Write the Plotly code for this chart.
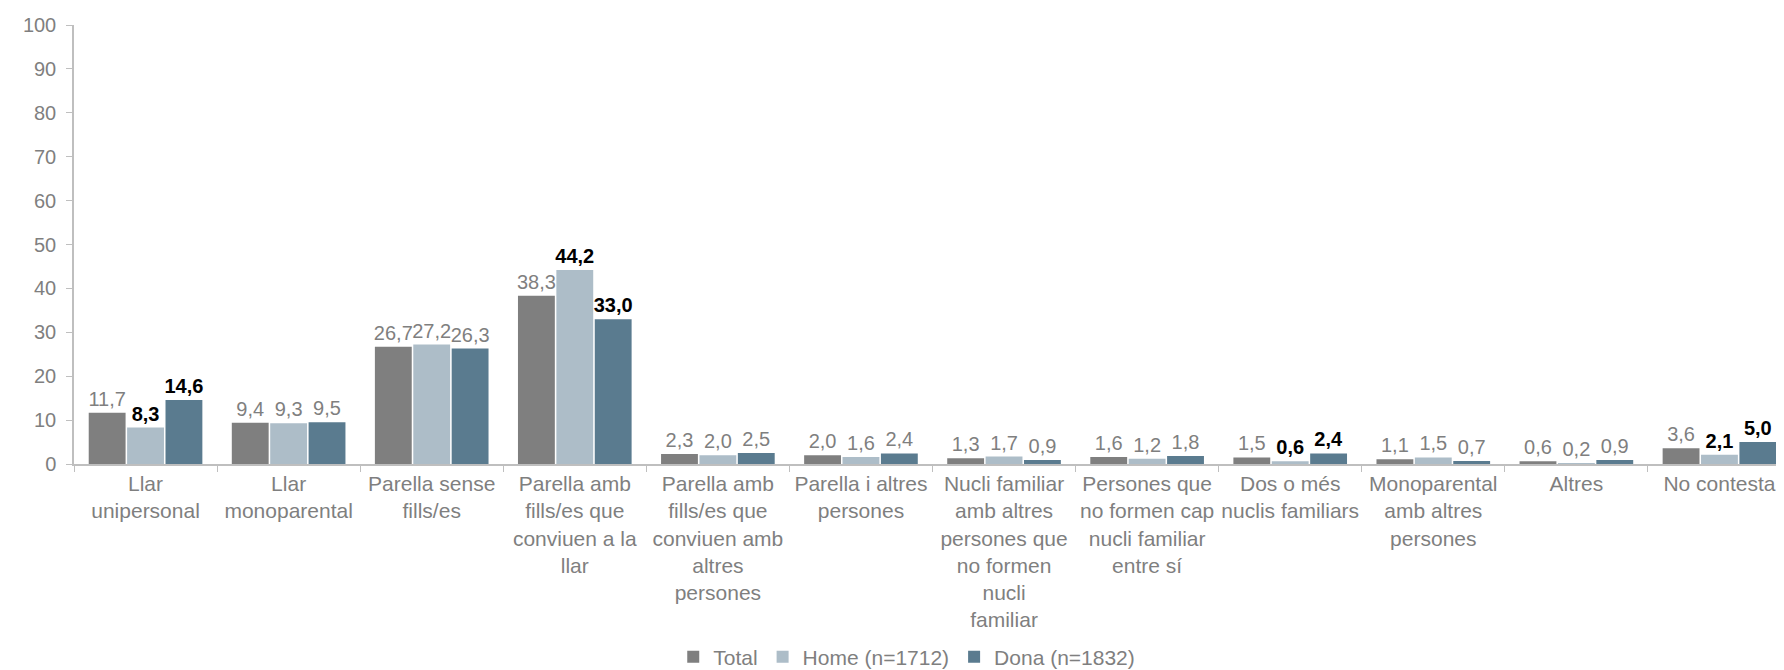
import plotly.graph_objects as go

categories = [
    "Llar<br>unipersonal",
    "Llar<br>monoparental",
    "Parella sense<br>fills/es",
    "Parella amb<br>fills/es que<br>conviuen a la<br>llar",
    "Parella amb<br>fills/es que<br>conviuen amb<br>altres<br>persones",
    "Parella i altres<br>persones",
    "Nucli familiar<br>amb altres<br>persones que<br>no formen<br>nucli<br>familiar",
    "Persones que<br>no formen cap<br>nucli familiar<br>entre sí",
    "Dos o més<br>nuclis familiars",
    "Monoparental<br>amb altres<br>persones",
    "Altres",
    "No contesta",
]

total = [11.7, 9.4, 26.7, 38.3, 2.3, 2.0, 1.3, 1.6, 1.5, 1.1, 0.6, 3.6]
home = [8.3, 9.3, 27.2, 44.2, 2.0, 1.6, 1.7, 1.2, 0.6, 1.5, 0.2, 2.1]
dona = [14.6, 9.5, 26.3, 33.0, 2.5, 2.4, 0.9, 1.8, 2.4, 0.7, 0.9, 5.0]

# categories whose Home / Dona labels are highlighted in bold
bold_home = [0, 3, 8, 11]
bold_dona = [0, 3, 8, 11]

GRAY = "#7F7F7F"
FONT = "Arial"


def labels(values, bold):
    txt, cols = [], []
    for i, v in enumerate(values):
        s = f"{v:.1f}".replace(".", ",")
        if i in bold:
            txt.append(f"<b>{s}</b>")
            cols.append("#000000")
        else:
            txt.append(s)
            cols.append(GRAY)
    return txt, cols


series = [
    ("Total", total, [], "#7F7F7F"),
    ("Home (n=1712)", home, bold_home, "#ADBDC8"),
    ("Dona (n=1832)", dona, bold_dona, "#5A7B8F"),
]

fig = go.Figure()
for name, vals, bold, color in series:
    txt, cols = labels(vals, bold)
    fig.add_trace(go.Bar(
        x=categories, y=vals, name=name,
        marker=dict(color=color, line=dict(width=0)),
        text=txt, textposition="outside", cliponaxis=False,
        constraintext="none",
        textfont=dict(color=cols, size=20, family=FONT),
    ))

fig.update_layout(
    width=1784, height=670,
    margin=dict(l=66, r=1, t=17, b=208),
    plot_bgcolor="white", paper_bgcolor="white",
    barmode="group", bargap=0.195, bargroupgap=0.04,
    font=dict(family=FONT, color=GRAY, size=20),
    showlegend=True,
    legend=dict(
        orientation="h", x=0.485, xanchor="center", y=-0.44, yanchor="middle",
        font=dict(size=21, color=GRAY), itemwidth=30, traceorder="normal",
    ),
)
fig.update_yaxes(
    range=[0, 100], dtick=10, showgrid=False, zeroline=False,
    showline=True, linecolor="#BFBFBF", linewidth=1.5,
    ticks="outside", ticklen=6, tickcolor="#BFBFBF",
    ticklabelstandoff=6, automargin=False,
    tickfont=dict(size=20, color=GRAY),
)
fig.update_xaxes(
    showline=True, linecolor="#BFBFBF", linewidth=1.5,
    ticks="outside", tickson="boundaries", ticklen=6, tickcolor="#BFBFBF",
    tickfont=dict(size=21, color=GRAY), tickangle=0, automargin=False,
)

fig.write_html("out.html")
